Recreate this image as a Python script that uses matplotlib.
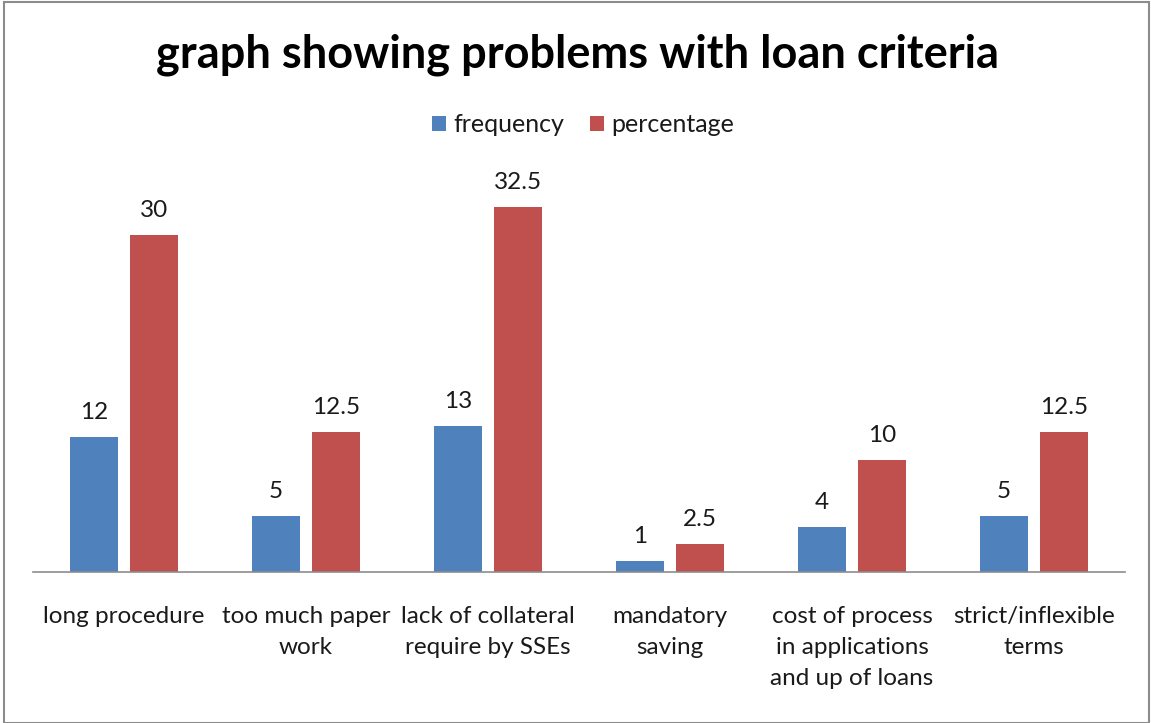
import matplotlib
matplotlib.use("Agg")
import matplotlib.pyplot as plt
import numpy as np
from matplotlib.patches import Rectangle

categories = ["long procedure", "too much paper\nwork", "lack of collateral\nrequire by SSEs",
              "mandatory\nsaving", "cost of process\nin applications\nand up of loans",
              "strict/inflexible\nterms"]
frequency = [12, 5, 13, 1, 4, 5]
percentage = [30, 12.5, 32.5, 2.5, 10, 12.5]
value_labels_freq = ["12", "5", "13", "1", "4", "5"]
value_labels_pct = ["30", "12.5", "32.5", "2.5", "10", "12.5"]

FONT = ["Lato", "DejaVu Sans"]
plt.rcParams['font.family'] = FONT

fig = plt.figure(figsize=(11.51, 7.23), dpi=100)
fig.patches.append(Rectangle((0.0035, 0.0), 0.995, 0.997, transform=fig.transFigure,
                             fill=False, edgecolor="#8c8c8c", linewidth=1.5))

ax = fig.add_axes([33/1151, 1-572/723, (1125-33)/1151, (572-179)/723])
x = np.arange(len(categories))
w = 0.264
off = 0.165
blue = "#4F81BD"
red = "#C0504D"
b1 = ax.bar(x - off, frequency, w, color=blue, label="frequency")
b2 = ax.bar(x + off, percentage, w, color=red, label="percentage")
for bars, labs in ((b1, value_labels_freq), (b2, value_labels_pct)):
    for rect, lab in zip(bars, labs):
        ax.annotate(lab, (rect.get_x() + rect.get_width()/2, rect.get_height()),
                    xytext=(0, 10), textcoords="offset points", ha="center", va="bottom",
                    fontsize=17.5, color="#1a1a1a")

ax.set_xlim(-0.5, len(categories) - 0.5)
ax.set_ylim(0, 35)
ax.set_xticks(x)
ax.set_xticklabels(categories, fontsize=17.5, color="#1a1a1a", linespacing=1.6, va="top")
ax.tick_params(axis="x", length=0, pad=24.5)
ax.set_yticks([])
for s in ("top", "right", "left"):
    ax.spines[s].set_visible(False)
ax.spines["bottom"].set_color("#8c8c8c")
ax.spines["bottom"].set_linewidth(1.2)

fig.text(577/1151, 1-55/723, "graph showing problems with loan criteria",
         ha="center", va="center", fontsize=32.5, fontweight="bold", color="black")
fig.legend(handles=[b1, b2], loc="center", bbox_to_anchor=(583/1151, 1-125/723), ncol=2,
           frameon=False, fontsize=18, handlelength=0.55, handleheight=0.55,
           handletextpad=0.3, columnspacing=1.05, labelcolor="#1a1a1a")

fig.savefig("out.png", dpi=100)
